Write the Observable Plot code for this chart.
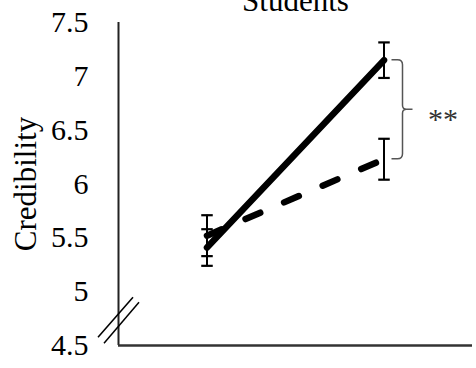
<!DOCTYPE html>
<html>
<head>
<meta charset="utf-8">
<script src="https://cdn.jsdelivr.net/npm/d3@7"></script>
<script src="https://cdn.jsdelivr.net/npm/@observablehq/plot@0.6"></script>
<style>
  html, body { margin: 0; padding: 0; background: #fff; }
  #chart svg { display: block; }
</style>
</head>
<body>
<div id="chart"></div>
<script>
// ---- Data ----
const title = "Students";
const yLabel = "Credibility";
const conditions = ["Condition 1", "Condition 2"];       // two x positions (no visible labels)
const seriesNames = ["Solid", "Dashed"];
const solidMeans = [5.41, 7.15];
const solidErrors = [0.17, 0.165];
const dashedMeans = [5.52, 6.23];
const dashedErrors = [0.19, 0.19];
const yTicks = [4.5, 5, 5.5, 6, 6.5, 7, 7.5];
const significance = "**";
const breakValue = 4.73;

// ---- Build table ----
const rows = [];
conditions.forEach((c, i) => {
  rows.push({series: seriesNames[0], cond: c, x: i + 0.5, mean: solidMeans[i], err: solidErrors[i]});
  rows.push({series: seriesNames[1], cond: c, x: i + 0.5, mean: dashedMeans[i], err: dashedErrors[i]});
});
const solidRows = rows.filter(d => d.series === seriesNames[0]);
const dashedRows = rows.filter(d => d.series === seriesNames[1]);

const font = '"Liberation Serif", "Times New Roman", serif';
const capSymbol = {
  draw(context, size) {
    const w = Math.sqrt(size) / 2;
    context.moveTo(-w, 0);
    context.lineTo(w, 0);
  }
};

const lastX = conditions.length - 0.5;
const midSig = (solidMeans[1] + dashedMeans[1]) / 2;

const plot = Plot.plot({
  width: 476,
  height: 368,
  marginLeft: 118,
  marginRight: 4,
  marginTop: 22,
  marginBottom: 23,
  style: {fontFamily: font, background: "#fff", color: "#000", overflow: "visible"},
  x: {domain: [0, conditions.length], axis: null},
  y: {domain: [4.5, 7.5], ticks: yTicks},
  marks: [
    Plot.axisY({ticks: yTicks, tickSize: 0, tickPadding: 30, fontSize: 30, label: null, tickFormat: d => String(d)}),
    Plot.ruleX([0], {y1: 4.5, y2: 7.5, stroke: "#222", strokeWidth: 2}),
    Plot.ruleY([4.5], {stroke: "#333", strokeWidth: 2.5}),
    // error bars
    Plot.ruleX(rows, {x: "x", y1: d => d.mean - d.err, y2: d => d.mean + d.err, stroke: "#000", strokeWidth: 2}),
    Plot.dot(rows, {x: "x", y: d => d.mean - d.err, symbol: capSymbol, r: 6.5, stroke: "#000", strokeWidth: 2.2}),
    Plot.dot(rows, {x: "x", y: d => d.mean + d.err, symbol: capSymbol, r: 6.5, stroke: "#000", strokeWidth: 2.2}),
    // lines
    Plot.line(solidRows, {x: "x", y: "mean", stroke: "#000", strokeWidth: 6.5, strokeLinecap: "round"}),
    Plot.line(dashedRows, {x: "x", y: "mean", stroke: "#000", strokeWidth: 6.5, strokeLinecap: "round", strokeDasharray: "16,26"}),
    // significance
    Plot.text([significance], {x: lastX, y: midSig, dx: 44, textAnchor: "start", fontSize: 30, fill: "#333", dy: 10}),
    // title and y label
    Plot.text([title], {frameAnchor: "top", lineAnchor: "bottom", dy: -12, fontSize: 31, fill: "#000"}),
    Plot.text([yLabel], {frameAnchor: "left", textAnchor: "middle", lineAnchor: "middle", rotate: -90, dx: -92, fontSize: 31, fill: "#000"})
  ]
});

// decorations: axis break marks and significance bracket, positioned via the plot's scales
const sx = plot.scale("x"), sy = plot.scale("y");
const svg = d3.select(plot);
const bx = sx.apply(0), by = sy.apply(breakValue);
const g = svg.append("g").attr("fill", "none").attr("stroke", "#000").attr("stroke-width", 1.5);
g.append("line").attr("x1", bx - 20).attr("y1", by + 17).attr("x2", bx + 15).attr("y2", by - 23);
g.append("line").attr("x1", bx - 14).attr("y1", by + 23).attr("x2", bx + 21).attr("y2", by - 18);

const px = sx.apply(lastX);
const yTop = sy.apply(solidMeans[1]), yBot = sy.apply(dashedMeans[1]), yMid = (yTop + yBot) / 2;
const x0 = px + 8, x1 = px + 19, x2 = px + 29;
const path = `M${x0},${yTop} L${x1 - 5},${yTop} Q${x1},${yTop} ${x1},${yTop + 5} L${x1},${yMid - 4} Q${x1},${yMid} ${x1 + 4},${yMid} L${x2},${yMid}
M${x1 + 4},${yMid} Q${x1},${yMid} ${x1},${yMid + 4} L${x1},${yBot - 5} Q${x1},${yBot} ${x1 - 5},${yBot} L${x0},${yBot}`;
svg.append("path").attr("d", path).attr("fill", "none").attr("stroke", "#555").attr("stroke-width", 1.5);

document.getElementById("chart").appendChild(plot);
</script>
</body>
</html>
